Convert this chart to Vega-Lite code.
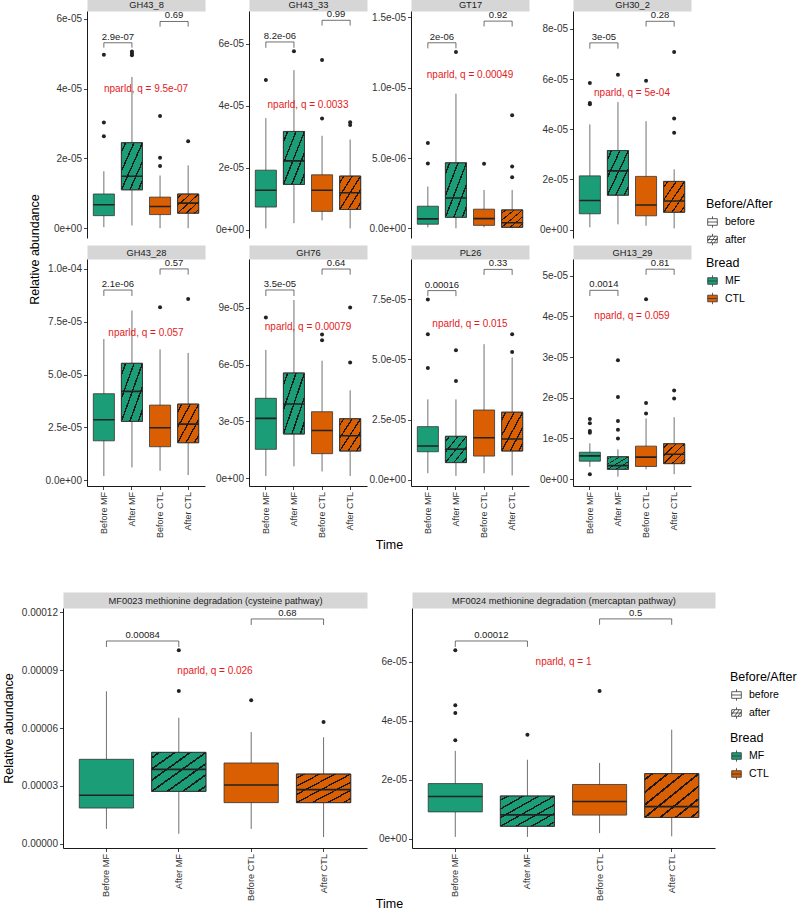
{
"$schema":"https://vega.github.io/schema/vega-lite/v6.json",
"background":"white",
"padding":{"left":2,"top":0,"right":0,"bottom":0},
"config":{"font":"Liberation Sans","view":{"stroke":null},
"axis":{"grid":false,"domainColor":"#000","domainWidth":0.9,"tickColor":"#333","tickSize":3.5,"tickWidth":0.9,"labelColor":"#333","labelFontSize":10,"labelPadding":2,"titleFontWeight":"normal","titleFontSize":12.5,"titleColor":"#000"},
"legend":{"titleFontWeight":"normal","titleFontSize":12.5,"titleColor":"#000","labelFontSize":10.5,"labelColor":"#000","padding":0}},
"datasets":{"d":[
{"k":"box","p":"GH43_8","t":"Before MF","b":"MF","ba":"before","lo":0.03e-5,"q1":0.36e-5,"md":0.67e-5,"q3":0.98e-5,"hi":1.63e-5},
{"k":"box","p":"GH43_8","t":"After MF","b":"MF","ba":"after","lo":0.08e-5,"q1":1.10e-5,"md":1.49e-5,"q3":2.45e-5,"hi":4.33e-5},
{"k":"box","p":"GH43_8","t":"Before CTL","b":"CTL","ba":"before","lo":0,"q1":0.39e-5,"md":0.62e-5,"q3":0.89e-5,"hi":1.51e-5},
{"k":"box","p":"GH43_8","t":"After CTL","b":"CTL","ba":"after","lo":0,"q1":0.43e-5,"md":0.72e-5,"q3":0.98e-5,"hi":1.80e-5},
{"k":"box","p":"GH43_33","t":"Before MF","b":"MF","ba":"before","lo":0.04e-5,"q1":0.73e-5,"md":1.27e-5,"q3":1.92e-5,"hi":3.60e-5},
{"k":"box","p":"GH43_33","t":"After MF","b":"MF","ba":"after","lo":0.21e-5,"q1":1.46e-5,"md":2.22e-5,"q3":3.17e-5,"hi":5.15e-5},
{"k":"box","p":"GH43_33","t":"Before CTL","b":"CTL","ba":"before","lo":0.30e-5,"q1":0.59e-5,"md":1.27e-5,"q3":1.77e-5,"hi":3.03e-5},
{"k":"box","p":"GH43_33","t":"After CTL","b":"CTL","ba":"after","lo":0.04e-5,"q1":0.65e-5,"md":1.19e-5,"q3":1.73e-5,"hi":2.91e-5},
{"k":"box","p":"GT17","t":"Before MF","b":"MF","ba":"before","lo":0.07e-6,"q1":0.29e-6,"md":0.67e-6,"q3":1.57e-6,"hi":2.97e-6},
{"k":"box","p":"GT17","t":"After MF","b":"MF","ba":"after","lo":0,"q1":0.78e-6,"md":2.16e-6,"q3":4.66e-6,"hi":9.58e-6},
{"k":"box","p":"GT17","t":"Before CTL","b":"CTL","ba":"before","lo":0.07e-6,"q1":0.21e-6,"md":0.69e-6,"q3":1.36e-6,"hi":2.73e-6},
{"k":"box","p":"GT17","t":"After CTL","b":"CTL","ba":"after","lo":0,"q1":0.07e-6,"md":0.40e-6,"q3":1.31e-6,"hi":2.73e-6},
{"k":"box","p":"GH30_2","t":"Before MF","b":"MF","ba":"before","lo":0.09e-5,"q1":0.63e-5,"md":1.16e-5,"q3":2.14e-5,"hi":4.19e-5},
{"k":"box","p":"GH30_2","t":"After MF","b":"MF","ba":"after","lo":0.21e-5,"q1":1.37e-5,"md":2.34e-5,"q3":3.15e-5,"hi":5.08e-5},
{"k":"box","p":"GH30_2","t":"Before CTL","b":"CTL","ba":"before","lo":0.15e-5,"q1":0.55e-5,"md":0.98e-5,"q3":2.12e-5,"hi":4.32e-5},
{"k":"box","p":"GH30_2","t":"After CTL","b":"CTL","ba":"after","lo":0.05e-5,"q1":0.69e-5,"md":1.14e-5,"q3":1.92e-5,"hi":2.40e-5},
{"k":"box","p":"GH43_28","t":"Before MF","b":"MF","ba":"before","lo":0.19e-5,"q1":1.86e-5,"md":2.86e-5,"q3":4.09e-5,"hi":6.68e-5},
{"k":"box","p":"GH43_28","t":"After MF","b":"MF","ba":"after","lo":0.60e-5,"q1":2.78e-5,"md":4.20e-5,"q3":5.53e-5,"hi":8.03e-5},
{"k":"box","p":"GH43_28","t":"Before CTL","b":"CTL","ba":"before","lo":0.44e-5,"q1":1.58e-5,"md":2.48e-5,"q3":3.55e-5,"hi":6.19e-5},
{"k":"box","p":"GH43_28","t":"After CTL","b":"CTL","ba":"after","lo":0.24e-5,"q1":1.77e-5,"md":2.65e-5,"q3":3.60e-5,"hi":6.02e-5},
{"k":"box","p":"GH76","t":"Before MF","b":"MF","ba":"before","lo":0.11e-5,"q1":1.52e-5,"md":3.16e-5,"q3":4.22e-5,"hi":6.78e-5},
{"k":"box","p":"GH76","t":"After MF","b":"MF","ba":"after","lo":0.62e-5,"q1":2.33e-5,"md":3.92e-5,"q3":5.56e-5,"hi":9.42e-5},
{"k":"box","p":"GH76","t":"Before CTL","b":"CTL","ba":"before","lo":0.35e-5,"q1":1.29e-5,"md":2.52e-5,"q3":3.51e-5,"hi":6.21e-5},
{"k":"box","p":"GH76","t":"After CTL","b":"CTL","ba":"after","lo":0.11e-5,"q1":1.43e-5,"md":2.24e-5,"q3":3.14e-5,"hi":4.64e-5},
{"k":"box","p":"PL26","t":"Before MF","b":"MF","ba":"before","lo":0.28e-5,"q1":1.17e-5,"md":1.41e-5,"q3":2.21e-5,"hi":3.34e-5},
{"k":"box","p":"PL26","t":"After MF","b":"MF","ba":"after","lo":0.17e-5,"q1":0.72e-5,"md":1.28e-5,"q3":1.81e-5,"hi":3.34e-5},
{"k":"box","p":"PL26","t":"Before CTL","b":"CTL","ba":"before","lo":0.28e-5,"q1":0.99e-5,"md":1.75e-5,"q3":2.90e-5,"hi":5.63e-5},
{"k":"box","p":"PL26","t":"After CTL","b":"CTL","ba":"after","lo":0.19e-5,"q1":1.20e-5,"md":1.70e-5,"q3":2.81e-5,"hi":5.08e-5},
{"k":"box","p":"GH13_29","t":"Before MF","b":"MF","ba":"before","lo":0.30e-5,"q1":0.44e-5,"md":0.57e-5,"q3":0.66e-5,"hi":0.88e-5},
{"k":"box","p":"GH13_29","t":"After MF","b":"MF","ba":"after","lo":0.06e-5,"q1":0.24e-5,"md":0.33e-5,"q3":0.55e-5,"hi":0.73e-5},
{"k":"box","p":"GH13_29","t":"Before CTL","b":"CTL","ba":"before","lo":0.24e-5,"q1":0.31e-5,"md":0.54e-5,"q3":0.81e-5,"hi":1.49e-5},
{"k":"box","p":"GH13_29","t":"After CTL","b":"CTL","ba":"after","lo":0.12e-5,"q1":0.38e-5,"md":0.61e-5,"q3":0.87e-5,"hi":1.52e-5},
{"k":"box","p":"MF0023","t":"Before MF","b":"MF","ba":"before","lo":0.78e-5,"q1":1.86e-5,"md":2.52e-5,"q3":4.38e-5,"hi":7.90e-5},
{"k":"box","p":"MF0023","t":"After MF","b":"MF","ba":"after","lo":0.53e-5,"q1":2.72e-5,"md":3.86e-5,"q3":4.74e-5,"hi":6.53e-5},
{"k":"box","p":"MF0023","t":"Before CTL","b":"CTL","ba":"before","lo":0.78e-5,"q1":2.14e-5,"md":3.05e-5,"q3":4.19e-5,"hi":5.79e-5},
{"k":"box","p":"MF0023","t":"After CTL","b":"CTL","ba":"after","lo":0.36e-5,"q1":2.14e-5,"md":2.81e-5,"q3":3.62e-5,"hi":5.52e-5},
{"k":"box","p":"MF0024","t":"Before MF","b":"MF","ba":"before","lo":0.06e-5,"q1":0.91e-5,"md":1.43e-5,"q3":1.87e-5,"hi":2.98e-5},
{"k":"box","p":"MF0024","t":"After MF","b":"MF","ba":"after","lo":0.06e-5,"q1":0.42e-5,"md":0.81e-5,"q3":1.45e-5,"hi":2.68e-5},
{"k":"box","p":"MF0024","t":"Before CTL","b":"CTL","ba":"before","lo":0.19e-5,"q1":0.80e-5,"md":1.26e-5,"q3":1.84e-5,"hi":2.57e-5},
{"k":"box","p":"MF0024","t":"After CTL","b":"CTL","ba":"after","lo":0.08e-5,"q1":0.72e-5,"md":1.09e-5,"q3":2.21e-5,"hi":3.70e-5},
{"k":"out","p":"GH43_8","t":"Before MF","v":4.97e-5},{"k":"out","p":"GH43_8","t":"Before MF","v":3.03e-5},{"k":"out","p":"GH43_8","t":"Before MF","v":2.63e-5},
{"k":"out","p":"GH43_8","t":"After MF","v":5.06e-5},{"k":"out","p":"GH43_8","t":"After MF","v":5.00e-5},{"k":"out","p":"GH43_8","t":"After MF","v":4.95e-5},
{"k":"out","p":"GH43_8","t":"Before CTL","v":3.21e-5},{"k":"out","p":"GH43_8","t":"Before CTL","v":2.02e-5},{"k":"out","p":"GH43_8","t":"Before CTL","v":1.78e-5},
{"k":"out","p":"GH43_8","t":"After CTL","v":2.49e-5},
{"k":"out","p":"GH43_33","t":"Before MF","v":4.83e-5},{"k":"out","p":"GH43_33","t":"After MF","v":5.76e-5},
{"k":"out","p":"GH43_33","t":"Before CTL","v":5.48e-5},{"k":"out","p":"GH43_33","t":"Before CTL","v":3.59e-5},
{"k":"out","p":"GH43_33","t":"After CTL","v":3.47e-5},{"k":"out","p":"GH43_33","t":"After CTL","v":3.38e-5},
{"k":"out","p":"GT17","t":"Before MF","v":6.06e-6},{"k":"out","p":"GT17","t":"Before MF","v":4.61e-6},{"k":"out","p":"GT17","t":"After MF","v":12.55e-6},
{"k":"out","p":"GT17","t":"Before CTL","v":4.59e-6},{"k":"out","p":"GT17","t":"After CTL","v":8.04e-6},{"k":"out","p":"GT17","t":"After CTL","v":4.40e-6},{"k":"out","p":"GT17","t":"After CTL","v":3.64e-6},
{"k":"out","p":"GH30_2","t":"Before MF","v":5.84e-5},{"k":"out","p":"GH30_2","t":"Before MF","v":5.04e-5},{"k":"out","p":"GH30_2","t":"Before MF","v":4.99e-5},
{"k":"out","p":"GH30_2","t":"After MF","v":6.17e-5},{"k":"out","p":"GH30_2","t":"Before CTL","v":5.93e-5},
{"k":"out","p":"GH30_2","t":"After CTL","v":7.08e-5},{"k":"out","p":"GH30_2","t":"After CTL","v":4.43e-5},{"k":"out","p":"GH30_2","t":"After CTL","v":3.86e-5},
{"k":"out","p":"GH43_28","t":"Before CTL","v":8.18e-5},{"k":"out","p":"GH43_28","t":"After CTL","v":8.58e-5},
{"k":"out","p":"GH76","t":"Before MF","v":8.49e-5},{"k":"out","p":"GH76","t":"Before CTL","v":7.59e-5},{"k":"out","p":"GH76","t":"Before CTL","v":7.29e-5},
{"k":"out","p":"GH76","t":"After CTL","v":9.03e-5},{"k":"out","p":"GH76","t":"After CTL","v":6.11e-5},
{"k":"out","p":"PL26","t":"Before MF","v":7.48e-5},{"k":"out","p":"PL26","t":"Before MF","v":6.04e-5},{"k":"out","p":"PL26","t":"Before MF","v":4.64e-5},
{"k":"out","p":"PL26","t":"After MF","v":5.38e-5},{"k":"out","p":"PL26","t":"After MF","v":4.10e-5},
{"k":"out","p":"PL26","t":"After CTL","v":6.04e-5},{"k":"out","p":"PL26","t":"After CTL","v":5.30e-5},
{"k":"out","p":"GH13_29","t":"Before MF","v":0.12e-5},{"k":"out","p":"GH13_29","t":"Before MF","v":1.48e-5},{"k":"out","p":"GH13_29","t":"Before MF","v":1.37e-5},{"k":"out","p":"GH13_29","t":"Before MF","v":1.18e-5},{"k":"out","p":"GH13_29","t":"Before MF","v":1.14e-5},
{"k":"out","p":"GH13_29","t":"After MF","v":2.92e-5},{"k":"out","p":"GH13_29","t":"After MF","v":2.02e-5},{"k":"out","p":"GH13_29","t":"After MF","v":1.43e-5},{"k":"out","p":"GH13_29","t":"After MF","v":1.21e-5},{"k":"out","p":"GH13_29","t":"After MF","v":1.00e-5},
{"k":"out","p":"GH13_29","t":"Before CTL","v":4.42e-5},{"k":"out","p":"GH13_29","t":"Before CTL","v":1.87e-5},{"k":"out","p":"GH13_29","t":"Before CTL","v":1.61e-5},
{"k":"out","p":"GH13_29","t":"After CTL","v":2.18e-5},{"k":"out","p":"GH13_29","t":"After CTL","v":1.98e-5},
{"k":"out","p":"MF0023","t":"After MF","v":10.02e-5},{"k":"out","p":"MF0023","t":"After MF","v":7.91e-5},{"k":"out","p":"MF0023","t":"Before CTL","v":7.43e-5},{"k":"out","p":"MF0023","t":"After CTL","v":6.31e-5},
{"k":"out","p":"MF0024","t":"Before MF","v":6.40e-5},{"k":"out","p":"MF0024","t":"Before MF","v":4.53e-5},{"k":"out","p":"MF0024","t":"Before MF","v":4.27e-5},{"k":"out","p":"MF0024","t":"Before MF","v":3.34e-5},
{"k":"out","p":"MF0024","t":"After MF","v":3.53e-5},{"k":"out","p":"MF0024","t":"Before CTL","v":5.01e-5},
{"k":"br","p":"GH43_8","from":"Before MF","to":"After MF","y":5.31e-5,"yt":5.17e-5,"lab":"2.9e-07"},{"k":"br","p":"GH43_8","from":"Before CTL","to":"After CTL","y":5.92e-5,"yt":5.77e-5,"lab":"0.69"},
{"k":"br","p":"GH43_33","from":"Before MF","to":"After MF","y":6.06e-5,"yt":5.87e-5,"lab":"8.2e-06"},{"k":"br","p":"GH43_33","from":"Before CTL","to":"After CTL","y":6.76e-5,"yt":6.59e-5,"lab":"0.99"},
{"k":"br","p":"GT17","from":"Before MF","to":"After MF","y":13.2e-6,"yt":12.8e-6,"lab":"2e-06"},{"k":"br","p":"GT17","from":"Before CTL","to":"After CTL","y":14.74e-6,"yt":14.36e-6,"lab":"0.92"},
{"k":"br","p":"GH30_2","from":"Before MF","to":"After MF","y":7.44e-5,"yt":7.21e-5,"lab":"3e-05"},{"k":"br","p":"GH30_2","from":"Before CTL","to":"After CTL","y":8.30e-5,"yt":8.09e-5,"lab":"0.28"},
{"k":"br","p":"GH43_28","from":"Before MF","to":"After MF","y":9.0e-5,"yt":8.72e-5,"lab":"2.1e-06"},{"k":"br","p":"GH43_28","from":"Before CTL","to":"After CTL","y":10.0e-5,"yt":9.73e-5,"lab":"0.57"},
{"k":"br","p":"GH76","from":"Before MF","to":"After MF","y":9.95e-5,"yt":9.63e-5,"lab":"3.5e-05"},{"k":"br","p":"GH76","from":"Before CTL","to":"After CTL","y":11.06e-5,"yt":10.76e-5,"lab":"0.64"},
{"k":"br","p":"PL26","from":"Before MF","to":"After MF","y":7.85e-5,"yt":7.62e-5,"lab":"0.00016"},{"k":"br","p":"PL26","from":"Before CTL","to":"After CTL","y":8.73e-5,"yt":8.50e-5,"lab":"0.33"},
{"k":"br","p":"GH13_29","from":"Before MF","to":"After MF","y":4.64e-5,"yt":4.50e-5,"lab":"0.0014"},{"k":"br","p":"GH13_29","from":"Before CTL","to":"After CTL","y":5.16e-5,"yt":5.02e-5,"lab":"0.81"},
{"k":"br","p":"MF0023","from":"Before MF","to":"After MF","y":10.5e-5,"yt":10.19e-5,"lab":"0.00084"},{"k":"br","p":"MF0023","from":"Before CTL","to":"After CTL","y":11.64e-5,"yt":11.33e-5,"lab":"0.68"},
{"k":"br","p":"MF0024","from":"Before MF","to":"After MF","y":6.71e-5,"yt":6.51e-5,"lab":"0.00012"},{"k":"br","p":"MF0024","from":"Before CTL","to":"After CTL","y":7.46e-5,"yt":7.26e-5,"lab":"0.5"},
{"k":"np","p":"GH43_8","y":4.0e-5,"lab":"nparld, q = 9.5e-07"},
{"k":"np","p":"GH43_33","y":4.01e-5,"lab":"nparld, q = 0.0033"},
{"k":"np","p":"GT17","y":10.94e-6,"lab":"nparld, q = 0.00049"},
{"k":"np","p":"GH30_2","y":5.46e-5,"lab":"nparld, q = 5e-04"},
{"k":"np","p":"GH43_28","y":6.97e-5,"lab":"nparld, q = 0.057"},
{"k":"np","p":"GH76","y":7.99e-5,"lab":"nparld, q = 0.00079"},
{"k":"np","p":"PL26","y":6.46e-5,"lab":"nparld, q = 0.015"},
{"k":"np","p":"GH13_29","y":4.0e-5,"lab":"nparld, q = 0.059"},
{"k":"np","p":"MF0023","y":8.97e-5,"lab":"nparld, q = 0.026"},
{"k":"np","p":"MF0024","y":6.0e-5,"lab":"nparld, q = 1"}
]},
"center":true,"spacing":45,
"resolve":{"legend":{"fill":"independent","shape":"independent"}},
"vconcat":[
{"columns":4,"bounds":"flush","spacing":{"row":21,"column":44},"concat":[
{"width":118,"height":227,"data":{"name":"d"},"transform":[{"filter":"datum.p=='GH43_8'"}],"layer":[
{"transform":[{"filter":"datum.k=='box'"}],"mark":{"type":"rule","color":"#333","strokeWidth":0.7},"encoding":{"x":{"field":"t","type":"nominal","scale":{"domain":["Before MF","After MF","Before CTL","After CTL"],"paddingInner":0.25,"paddingOuter":0.225},"axis":{"orient":"bottom","domain":false,"ticks":false,"labels":false,"title":null}},"y":{"field":"lo","type":"quantitative","scale":{"domain":[-2.8e-6,6.22e-5],"nice":false,"zero":false},"axis":{"title":null,"values":[0,2e-5,4e-5,6e-5],"labelExpr":"datum.value == 0 ? '0e+00' : replace(format(datum.value, '.0e'), 'e-', 'e-0')"}},"y2":{"field":"hi"}}},
{"transform":[{"filter":"datum.k=='box'"}],"mark":{"type":"bar","stroke":"#333","strokeWidth":0.8},"encoding":{"x":{"field":"t","type":"nominal","axis":null},"y":{"field":"q1","type":"quantitative"},"y2":{"field":"q3"},"fill":{"field":"b","type":"nominal","scale":{"domain":["MF","CTL"],"range":["#1B9E77","#D95F02"]},"legend":{"title":"Bread","orient":"none","legendX":619,"legendY":246,"symbolType":"M-0.8,-0.55H0.8V0.55H-0.8Z M-0.8,0H0.8 M0,-0.55V-0.95 M0,0.55V0.95","symbolSize":144,"symbolStrokeColor":"#333","symbolStrokeWidth":0.8,"rowPadding":2.5,"titlePadding":5,"labelOffset":6}}}},
{"transform":[{"filter":"datum.k=='box' && datum.ba=='after'"}],"mark":{"type":"bar","stroke":"#333","strokeWidth":0.8,"fill":{"gradient":"linear","x1":0,"y1":0,"x2":1,"y2":1,"stops":[{"offset":0,"color":"rgba(0,0,0,0)"},{"offset":0.082,"color":"rgba(0,0,0,0)"},{"offset":0.082,"color":"#1a1a1a"},{"offset":0.118,"color":"#1a1a1a"},{"offset":0.118,"color":"rgba(0,0,0,0)"},{"offset":0.282,"color":"rgba(0,0,0,0)"},{"offset":0.282,"color":"#1a1a1a"},{"offset":0.318,"color":"#1a1a1a"},{"offset":0.318,"color":"rgba(0,0,0,0)"},{"offset":0.482,"color":"rgba(0,0,0,0)"},{"offset":0.482,"color":"#1a1a1a"},{"offset":0.518,"color":"#1a1a1a"},{"offset":0.518,"color":"rgba(0,0,0,0)"},{"offset":0.682,"color":"rgba(0,0,0,0)"},{"offset":0.682,"color":"#1a1a1a"},{"offset":0.718,"color":"#1a1a1a"},{"offset":0.718,"color":"rgba(0,0,0,0)"},{"offset":0.882,"color":"rgba(0,0,0,0)"},{"offset":0.882,"color":"#1a1a1a"},{"offset":0.918,"color":"#1a1a1a"},{"offset":0.918,"color":"rgba(0,0,0,0)"},{"offset":1,"color":"rgba(0,0,0,0)"}]}},"encoding":{"x":{"field":"t","type":"nominal","axis":null},"y":{"field":"q1","type":"quantitative"},"y2":{"field":"q3"}}},
{"transform":[{"filter":"datum.k=='box'"}],"mark":{"type":"bar","fill":"transparent","stroke":"#222","strokeWidth":1.6},"encoding":{"x":{"field":"t","type":"nominal","axis":{"orient":"top","offset":7,"domain":true,"domainColor":"#d6d6d6","domainWidth":14,"ticks":false,"labels":false,"title":"GH43_8","titleFontSize":9.3,"titleColor":"#1a1a1a","titleY":0,"titleBaseline":"middle"}},"y":{"field":"md","type":"quantitative"},"y2":{"field":"md"}}},
{"transform":[{"filter":"datum.k=='out'"}],"mark":{"type":"circle","size":16,"color":"#222","opacity":1},"encoding":{"x":{"field":"t","type":"nominal","axis":null},"y":{"field":"v","type":"quantitative"}}},
{"transform":[{"filter":"datum.k=='br'"}],"mark":{"type":"rule","color":"#333","strokeWidth":0.7},"encoding":{"x":{"field":"from","type":"nominal","axis":null},"x2":{"field":"to"},"y":{"field":"y","type":"quantitative"}}},
{"transform":[{"filter":"datum.k=='br'"}],"mark":{"type":"rule","color":"#333","strokeWidth":0.7},"encoding":{"x":{"field":"from","type":"nominal","axis":null},"y":{"field":"y","type":"quantitative"},"y2":{"field":"yt"}}},
{"transform":[{"filter":"datum.k=='br'"}],"mark":{"type":"rule","color":"#333","strokeWidth":0.7},"encoding":{"x":{"field":"to","type":"nominal","axis":null},"y":{"field":"y","type":"quantitative"},"y2":{"field":"yt"}}},
{"transform":[{"filter":"datum.k=='br'"}],"mark":{"type":"text","fontSize":9.5,"baseline":"bottom","dy":-1,"color":"#1a1a1a"},"encoding":{"x":{"field":"from","type":"nominal","bandPosition":1.1667,"axis":null},"y":{"field":"y","type":"quantitative"},"text":{"field":"lab"}}},
{"transform":[{"filter":"datum.k=='np'"}],"mark":{"type":"text","fontSize":10,"color":"#E41A1C"},"encoding":{"x":{"datum":"After MF","type":"nominal","bandPosition":1.1667,"axis":null},"y":{"field":"y","type":"quantitative"},"text":{"field":"lab"}}},
{"transform":[{"filter":"false"}],"mark":{"type":"point","filled":false,"color":"#333","strokeWidth":0.8,"opacity":1},"encoding":{"x":{"field":"t","type":"nominal","axis":null},"y":{"field":"md","type":"quantitative"},"shape":{"field":"ba","type":"nominal","scale":{"domain":["before","after"],"range":["M-0.8,-0.55H0.8V0.55H-0.8Z M-0.8,0H0.8 M0,-0.55V-0.95 M0,0.55V0.95","M-0.8,-0.55H0.8V0.55H-0.8Z M-0.8,0H0.8 M0,-0.55V-0.95 M0,0.55V0.95 M-0.8,0.25L-0.25,-0.55 M-0.3,0.55L0.45,-0.55 M0.25,0.55L0.8,-0.25"]},"legend":{"title":"Before/After","orient":"none","legendX":619,"legendY":187,"symbolSize":144,"symbolStrokeColor":"#333","symbolStrokeWidth":0.8,"rowPadding":2.5,"titlePadding":5,"labelOffset":6}}}}
]},
{"width":118,"height":227,"data":{"name":"d"},"transform":[{"filter":"datum.p=='GH43_33'"}],"layer":[
{"transform":[{"filter":"datum.k=='box'"}],"mark":{"type":"rule","color":"#333","strokeWidth":0.7},"encoding":{"x":{"field":"t","type":"nominal","scale":{"domain":["Before MF","After MF","Before CTL","After CTL"],"paddingInner":0.25,"paddingOuter":0.225},"axis":{"orient":"bottom","domain":false,"ticks":false,"labels":false,"title":null}},"y":{"field":"lo","type":"quantitative","scale":{"domain":[-2.7e-6,7.06e-5],"nice":false,"zero":false},"axis":{"title":null,"values":[0,2e-5,4e-5,6e-5],"labelExpr":"datum.value == 0 ? '0e+00' : replace(format(datum.value, '.0e'), 'e-', 'e-0')"}},"y2":{"field":"hi"}}},
{"transform":[{"filter":"datum.k=='box'"}],"mark":{"type":"bar","stroke":"#333","strokeWidth":0.8},"encoding":{"x":{"field":"t","type":"nominal","axis":null},"y":{"field":"q1","type":"quantitative"},"y2":{"field":"q3"},"fill":{"field":"b","type":"nominal","scale":{"domain":["MF","CTL"],"range":["#1B9E77","#D95F02"]},"legend":null}}},
{"transform":[{"filter":"datum.k=='box' && datum.ba=='after'"}],"mark":{"type":"bar","stroke":"#333","strokeWidth":0.8,"fill":{"gradient":"linear","x1":0,"y1":0,"x2":1,"y2":1,"stops":[{"offset":0,"color":"rgba(0,0,0,0)"},{"offset":0.082,"color":"rgba(0,0,0,0)"},{"offset":0.082,"color":"#1a1a1a"},{"offset":0.118,"color":"#1a1a1a"},{"offset":0.118,"color":"rgba(0,0,0,0)"},{"offset":0.282,"color":"rgba(0,0,0,0)"},{"offset":0.282,"color":"#1a1a1a"},{"offset":0.318,"color":"#1a1a1a"},{"offset":0.318,"color":"rgba(0,0,0,0)"},{"offset":0.482,"color":"rgba(0,0,0,0)"},{"offset":0.482,"color":"#1a1a1a"},{"offset":0.518,"color":"#1a1a1a"},{"offset":0.518,"color":"rgba(0,0,0,0)"},{"offset":0.682,"color":"rgba(0,0,0,0)"},{"offset":0.682,"color":"#1a1a1a"},{"offset":0.718,"color":"#1a1a1a"},{"offset":0.718,"color":"rgba(0,0,0,0)"},{"offset":0.882,"color":"rgba(0,0,0,0)"},{"offset":0.882,"color":"#1a1a1a"},{"offset":0.918,"color":"#1a1a1a"},{"offset":0.918,"color":"rgba(0,0,0,0)"},{"offset":1,"color":"rgba(0,0,0,0)"}]}},"encoding":{"x":{"field":"t","type":"nominal","axis":null},"y":{"field":"q1","type":"quantitative"},"y2":{"field":"q3"}}},
{"transform":[{"filter":"datum.k=='box'"}],"mark":{"type":"bar","fill":"transparent","stroke":"#222","strokeWidth":1.6},"encoding":{"x":{"field":"t","type":"nominal","axis":{"orient":"top","offset":7,"domain":true,"domainColor":"#d6d6d6","domainWidth":14,"ticks":false,"labels":false,"title":"GH43_33","titleFontSize":9.3,"titleColor":"#1a1a1a","titleY":0,"titleBaseline":"middle"}},"y":{"field":"md","type":"quantitative"},"y2":{"field":"md"}}},
{"transform":[{"filter":"datum.k=='out'"}],"mark":{"type":"circle","size":16,"color":"#222","opacity":1},"encoding":{"x":{"field":"t","type":"nominal","axis":null},"y":{"field":"v","type":"quantitative"}}},
{"transform":[{"filter":"datum.k=='br'"}],"mark":{"type":"rule","color":"#333","strokeWidth":0.7},"encoding":{"x":{"field":"from","type":"nominal","axis":null},"x2":{"field":"to"},"y":{"field":"y","type":"quantitative"}}},
{"transform":[{"filter":"datum.k=='br'"}],"mark":{"type":"rule","color":"#333","strokeWidth":0.7},"encoding":{"x":{"field":"from","type":"nominal","axis":null},"y":{"field":"y","type":"quantitative"},"y2":{"field":"yt"}}},
{"transform":[{"filter":"datum.k=='br'"}],"mark":{"type":"rule","color":"#333","strokeWidth":0.7},"encoding":{"x":{"field":"to","type":"nominal","axis":null},"y":{"field":"y","type":"quantitative"},"y2":{"field":"yt"}}},
{"transform":[{"filter":"datum.k=='br'"}],"mark":{"type":"text","fontSize":9.5,"baseline":"bottom","dy":-1,"color":"#1a1a1a"},"encoding":{"x":{"field":"from","type":"nominal","bandPosition":1.1667,"axis":null},"y":{"field":"y","type":"quantitative"},"text":{"field":"lab"}}},
{"transform":[{"filter":"datum.k=='np'"}],"mark":{"type":"text","fontSize":10,"color":"#E41A1C"},"encoding":{"x":{"datum":"After MF","type":"nominal","bandPosition":1.1667,"axis":null},"y":{"field":"y","type":"quantitative"},"text":{"field":"lab"}}}
]},
{"width":118,"height":227,"data":{"name":"d"},"transform":[{"filter":"datum.p=='GT17'"}],"layer":[
{"transform":[{"filter":"datum.k=='box'"}],"mark":{"type":"rule","color":"#333","strokeWidth":0.7},"encoding":{"x":{"field":"t","type":"nominal","scale":{"domain":["Before MF","After MF","Before CTL","After CTL"],"paddingInner":0.25,"paddingOuter":0.225},"axis":{"orient":"bottom","domain":false,"ticks":false,"labels":false,"title":null}},"y":{"field":"lo","type":"quantitative","scale":{"domain":[-6.9e-7,1.546e-5],"nice":false,"zero":false},"axis":{"title":null,"values":[0,5e-6,1e-5,1.5e-5],"labelExpr":"datum.value == 0 ? '0.0e+00' : replace(format(datum.value, '.1e'), 'e-', 'e-0')"}},"y2":{"field":"hi"}}},
{"transform":[{"filter":"datum.k=='box'"}],"mark":{"type":"bar","stroke":"#333","strokeWidth":0.8},"encoding":{"x":{"field":"t","type":"nominal","axis":null},"y":{"field":"q1","type":"quantitative"},"y2":{"field":"q3"},"fill":{"field":"b","type":"nominal","scale":{"domain":["MF","CTL"],"range":["#1B9E77","#D95F02"]},"legend":null}}},
{"transform":[{"filter":"datum.k=='box' && datum.ba=='after'"}],"mark":{"type":"bar","stroke":"#333","strokeWidth":0.8,"fill":{"gradient":"linear","x1":0,"y1":0,"x2":1,"y2":1,"stops":[{"offset":0,"color":"rgba(0,0,0,0)"},{"offset":0.082,"color":"rgba(0,0,0,0)"},{"offset":0.082,"color":"#1a1a1a"},{"offset":0.118,"color":"#1a1a1a"},{"offset":0.118,"color":"rgba(0,0,0,0)"},{"offset":0.282,"color":"rgba(0,0,0,0)"},{"offset":0.282,"color":"#1a1a1a"},{"offset":0.318,"color":"#1a1a1a"},{"offset":0.318,"color":"rgba(0,0,0,0)"},{"offset":0.482,"color":"rgba(0,0,0,0)"},{"offset":0.482,"color":"#1a1a1a"},{"offset":0.518,"color":"#1a1a1a"},{"offset":0.518,"color":"rgba(0,0,0,0)"},{"offset":0.682,"color":"rgba(0,0,0,0)"},{"offset":0.682,"color":"#1a1a1a"},{"offset":0.718,"color":"#1a1a1a"},{"offset":0.718,"color":"rgba(0,0,0,0)"},{"offset":0.882,"color":"rgba(0,0,0,0)"},{"offset":0.882,"color":"#1a1a1a"},{"offset":0.918,"color":"#1a1a1a"},{"offset":0.918,"color":"rgba(0,0,0,0)"},{"offset":1,"color":"rgba(0,0,0,0)"}]}},"encoding":{"x":{"field":"t","type":"nominal","axis":null},"y":{"field":"q1","type":"quantitative"},"y2":{"field":"q3"}}},
{"transform":[{"filter":"datum.k=='box'"}],"mark":{"type":"bar","fill":"transparent","stroke":"#222","strokeWidth":1.6},"encoding":{"x":{"field":"t","type":"nominal","axis":{"orient":"top","offset":7,"domain":true,"domainColor":"#d6d6d6","domainWidth":14,"ticks":false,"labels":false,"title":"GT17","titleFontSize":9.3,"titleColor":"#1a1a1a","titleY":0,"titleBaseline":"middle"}},"y":{"field":"md","type":"quantitative"},"y2":{"field":"md"}}},
{"transform":[{"filter":"datum.k=='out'"}],"mark":{"type":"circle","size":16,"color":"#222","opacity":1},"encoding":{"x":{"field":"t","type":"nominal","axis":null},"y":{"field":"v","type":"quantitative"}}},
{"transform":[{"filter":"datum.k=='br'"}],"mark":{"type":"rule","color":"#333","strokeWidth":0.7},"encoding":{"x":{"field":"from","type":"nominal","axis":null},"x2":{"field":"to"},"y":{"field":"y","type":"quantitative"}}},
{"transform":[{"filter":"datum.k=='br'"}],"mark":{"type":"rule","color":"#333","strokeWidth":0.7},"encoding":{"x":{"field":"from","type":"nominal","axis":null},"y":{"field":"y","type":"quantitative"},"y2":{"field":"yt"}}},
{"transform":[{"filter":"datum.k=='br'"}],"mark":{"type":"rule","color":"#333","strokeWidth":0.7},"encoding":{"x":{"field":"to","type":"nominal","axis":null},"y":{"field":"y","type":"quantitative"},"y2":{"field":"yt"}}},
{"transform":[{"filter":"datum.k=='br'"}],"mark":{"type":"text","fontSize":9.5,"baseline":"bottom","dy":-1,"color":"#1a1a1a"},"encoding":{"x":{"field":"from","type":"nominal","bandPosition":1.1667,"axis":null},"y":{"field":"y","type":"quantitative"},"text":{"field":"lab"}}},
{"transform":[{"filter":"datum.k=='np'"}],"mark":{"type":"text","fontSize":10,"color":"#E41A1C"},"encoding":{"x":{"datum":"After MF","type":"nominal","bandPosition":1.1667,"axis":null},"y":{"field":"y","type":"quantitative"},"text":{"field":"lab"}}}
]},
{"width":118,"height":227,"data":{"name":"d"},"transform":[{"filter":"datum.p=='GH30_2'"}],"layer":[
{"transform":[{"filter":"datum.k=='box'"}],"mark":{"type":"rule","color":"#333","strokeWidth":0.7},"encoding":{"x":{"field":"t","type":"nominal","scale":{"domain":["Before MF","After MF","Before CTL","After CTL"],"paddingInner":0.25,"paddingOuter":0.225},"axis":{"orient":"bottom","domain":false,"ticks":false,"labels":false,"title":null}},"y":{"field":"lo","type":"quantitative","scale":{"domain":[-3.35e-6,8.71e-5],"nice":false,"zero":false},"axis":{"title":null,"values":[0,2e-5,4e-5,6e-5,8e-5],"labelExpr":"datum.value == 0 ? '0e+00' : replace(format(datum.value, '.0e'), 'e-', 'e-0')"}},"y2":{"field":"hi"}}},
{"transform":[{"filter":"datum.k=='box'"}],"mark":{"type":"bar","stroke":"#333","strokeWidth":0.8},"encoding":{"x":{"field":"t","type":"nominal","axis":null},"y":{"field":"q1","type":"quantitative"},"y2":{"field":"q3"},"fill":{"field":"b","type":"nominal","scale":{"domain":["MF","CTL"],"range":["#1B9E77","#D95F02"]},"legend":null}}},
{"transform":[{"filter":"datum.k=='box' && datum.ba=='after'"}],"mark":{"type":"bar","stroke":"#333","strokeWidth":0.8,"fill":{"gradient":"linear","x1":0,"y1":0,"x2":1,"y2":1,"stops":[{"offset":0,"color":"rgba(0,0,0,0)"},{"offset":0.082,"color":"rgba(0,0,0,0)"},{"offset":0.082,"color":"#1a1a1a"},{"offset":0.118,"color":"#1a1a1a"},{"offset":0.118,"color":"rgba(0,0,0,0)"},{"offset":0.282,"color":"rgba(0,0,0,0)"},{"offset":0.282,"color":"#1a1a1a"},{"offset":0.318,"color":"#1a1a1a"},{"offset":0.318,"color":"rgba(0,0,0,0)"},{"offset":0.482,"color":"rgba(0,0,0,0)"},{"offset":0.482,"color":"#1a1a1a"},{"offset":0.518,"color":"#1a1a1a"},{"offset":0.518,"color":"rgba(0,0,0,0)"},{"offset":0.682,"color":"rgba(0,0,0,0)"},{"offset":0.682,"color":"#1a1a1a"},{"offset":0.718,"color":"#1a1a1a"},{"offset":0.718,"color":"rgba(0,0,0,0)"},{"offset":0.882,"color":"rgba(0,0,0,0)"},{"offset":0.882,"color":"#1a1a1a"},{"offset":0.918,"color":"#1a1a1a"},{"offset":0.918,"color":"rgba(0,0,0,0)"},{"offset":1,"color":"rgba(0,0,0,0)"}]}},"encoding":{"x":{"field":"t","type":"nominal","axis":null},"y":{"field":"q1","type":"quantitative"},"y2":{"field":"q3"}}},
{"transform":[{"filter":"datum.k=='box'"}],"mark":{"type":"bar","fill":"transparent","stroke":"#222","strokeWidth":1.6},"encoding":{"x":{"field":"t","type":"nominal","axis":{"orient":"top","offset":7,"domain":true,"domainColor":"#d6d6d6","domainWidth":14,"ticks":false,"labels":false,"title":"GH30_2","titleFontSize":9.3,"titleColor":"#1a1a1a","titleY":0,"titleBaseline":"middle"}},"y":{"field":"md","type":"quantitative"},"y2":{"field":"md"}}},
{"transform":[{"filter":"datum.k=='out'"}],"mark":{"type":"circle","size":16,"color":"#222","opacity":1},"encoding":{"x":{"field":"t","type":"nominal","axis":null},"y":{"field":"v","type":"quantitative"}}},
{"transform":[{"filter":"datum.k=='br'"}],"mark":{"type":"rule","color":"#333","strokeWidth":0.7},"encoding":{"x":{"field":"from","type":"nominal","axis":null},"x2":{"field":"to"},"y":{"field":"y","type":"quantitative"}}},
{"transform":[{"filter":"datum.k=='br'"}],"mark":{"type":"rule","color":"#333","strokeWidth":0.7},"encoding":{"x":{"field":"from","type":"nominal","axis":null},"y":{"field":"y","type":"quantitative"},"y2":{"field":"yt"}}},
{"transform":[{"filter":"datum.k=='br'"}],"mark":{"type":"rule","color":"#333","strokeWidth":0.7},"encoding":{"x":{"field":"to","type":"nominal","axis":null},"y":{"field":"y","type":"quantitative"},"y2":{"field":"yt"}}},
{"transform":[{"filter":"datum.k=='br'"}],"mark":{"type":"text","fontSize":9.5,"baseline":"bottom","dy":-1,"color":"#1a1a1a"},"encoding":{"x":{"field":"from","type":"nominal","bandPosition":1.1667,"axis":null},"y":{"field":"y","type":"quantitative"},"text":{"field":"lab"}}},
{"transform":[{"filter":"datum.k=='np'"}],"mark":{"type":"text","fontSize":10,"color":"#E41A1C"},"encoding":{"x":{"datum":"After MF","type":"nominal","bandPosition":1.1667,"axis":null},"y":{"field":"y","type":"quantitative"},"text":{"field":"lab"}}}
]},
{"width":118,"height":227,"data":{"name":"d"},"transform":[{"filter":"datum.p=='GH43_28'"}],"layer":[
{"transform":[{"filter":"datum.k=='box'"}],"mark":{"type":"rule","color":"#333","strokeWidth":0.7},"encoding":{"x":{"field":"t","type":"nominal","scale":{"domain":["Before MF","After MF","Before CTL","After CTL"],"paddingInner":0.25,"paddingOuter":0.225},"axis":{"orient":"bottom","title":null,"labelAngle":-90,"labelFontSize":9}},"y":{"field":"lo","type":"quantitative","scale":{"domain":[-2.8e-6,1.047e-4],"nice":false,"zero":false},"axis":{"title":"Relative abundance","titleX":-49,"titleY":-10,"titleBaseline":"alphabetic","values":[0,2.5e-5,5e-5,7.5e-5,1e-4],"labelExpr":"datum.value == 0 ? '0.0e+00' : replace(format(datum.value, '.1e'), 'e-', 'e-0')"}},"y2":{"field":"hi"}}},
{"transform":[{"filter":"datum.k=='box'"}],"mark":{"type":"bar","stroke":"#333","strokeWidth":0.8},"encoding":{"x":{"field":"t","type":"nominal","axis":null},"y":{"field":"q1","type":"quantitative"},"y2":{"field":"q3"},"fill":{"field":"b","type":"nominal","scale":{"domain":["MF","CTL"],"range":["#1B9E77","#D95F02"]},"legend":null}}},
{"transform":[{"filter":"datum.k=='box' && datum.ba=='after'"}],"mark":{"type":"bar","stroke":"#333","strokeWidth":0.8,"fill":{"gradient":"linear","x1":0,"y1":0,"x2":1,"y2":1,"stops":[{"offset":0,"color":"rgba(0,0,0,0)"},{"offset":0.082,"color":"rgba(0,0,0,0)"},{"offset":0.082,"color":"#1a1a1a"},{"offset":0.118,"color":"#1a1a1a"},{"offset":0.118,"color":"rgba(0,0,0,0)"},{"offset":0.282,"color":"rgba(0,0,0,0)"},{"offset":0.282,"color":"#1a1a1a"},{"offset":0.318,"color":"#1a1a1a"},{"offset":0.318,"color":"rgba(0,0,0,0)"},{"offset":0.482,"color":"rgba(0,0,0,0)"},{"offset":0.482,"color":"#1a1a1a"},{"offset":0.518,"color":"#1a1a1a"},{"offset":0.518,"color":"rgba(0,0,0,0)"},{"offset":0.682,"color":"rgba(0,0,0,0)"},{"offset":0.682,"color":"#1a1a1a"},{"offset":0.718,"color":"#1a1a1a"},{"offset":0.718,"color":"rgba(0,0,0,0)"},{"offset":0.882,"color":"rgba(0,0,0,0)"},{"offset":0.882,"color":"#1a1a1a"},{"offset":0.918,"color":"#1a1a1a"},{"offset":0.918,"color":"rgba(0,0,0,0)"},{"offset":1,"color":"rgba(0,0,0,0)"}]}},"encoding":{"x":{"field":"t","type":"nominal","axis":null},"y":{"field":"q1","type":"quantitative"},"y2":{"field":"q3"}}},
{"transform":[{"filter":"datum.k=='box'"}],"mark":{"type":"bar","fill":"transparent","stroke":"#222","strokeWidth":1.6},"encoding":{"x":{"field":"t","type":"nominal","axis":{"orient":"top","offset":7,"domain":true,"domainColor":"#d6d6d6","domainWidth":14,"ticks":false,"labels":false,"title":"GH43_28","titleFontSize":9.3,"titleColor":"#1a1a1a","titleY":0,"titleBaseline":"middle"}},"y":{"field":"md","type":"quantitative"},"y2":{"field":"md"}}},
{"transform":[{"filter":"datum.k=='out'"}],"mark":{"type":"circle","size":16,"color":"#222","opacity":1},"encoding":{"x":{"field":"t","type":"nominal","axis":null},"y":{"field":"v","type":"quantitative"}}},
{"transform":[{"filter":"datum.k=='br'"}],"mark":{"type":"rule","color":"#333","strokeWidth":0.7},"encoding":{"x":{"field":"from","type":"nominal","axis":null},"x2":{"field":"to"},"y":{"field":"y","type":"quantitative"}}},
{"transform":[{"filter":"datum.k=='br'"}],"mark":{"type":"rule","color":"#333","strokeWidth":0.7},"encoding":{"x":{"field":"from","type":"nominal","axis":null},"y":{"field":"y","type":"quantitative"},"y2":{"field":"yt"}}},
{"transform":[{"filter":"datum.k=='br'"}],"mark":{"type":"rule","color":"#333","strokeWidth":0.7},"encoding":{"x":{"field":"to","type":"nominal","axis":null},"y":{"field":"y","type":"quantitative"},"y2":{"field":"yt"}}},
{"transform":[{"filter":"datum.k=='br'"}],"mark":{"type":"text","fontSize":9.5,"baseline":"bottom","dy":-1,"color":"#1a1a1a"},"encoding":{"x":{"field":"from","type":"nominal","bandPosition":1.1667,"axis":null},"y":{"field":"y","type":"quantitative"},"text":{"field":"lab"}}},
{"transform":[{"filter":"datum.k=='np'"}],"mark":{"type":"text","fontSize":10,"color":"#E41A1C"},"encoding":{"x":{"datum":"After MF","type":"nominal","bandPosition":1.1667,"axis":null},"y":{"field":"y","type":"quantitative"},"text":{"field":"lab"}}}
]},
{"width":118,"height":227,"data":{"name":"d"},"transform":[{"filter":"datum.p=='GH76'"}],"layer":[
{"transform":[{"filter":"datum.k=='box'"}],"mark":{"type":"rule","color":"#333","strokeWidth":0.7},"encoding":{"x":{"field":"t","type":"nominal","scale":{"domain":["Before MF","After MF","Before CTL","After CTL"],"paddingInner":0.25,"paddingOuter":0.225},"axis":{"orient":"bottom","title":"Time","titleX":140,"titleY":62,"titleBaseline":"alphabetic","labelAngle":-90,"labelFontSize":9}},"y":{"field":"lo","type":"quantitative","scale":{"domain":[-4.2e-6,1.159e-4],"nice":false,"zero":false},"axis":{"title":null,"values":[0,3e-5,6e-5,9e-5],"labelExpr":"datum.value == 0 ? '0e+00' : replace(format(datum.value, '.0e'), 'e-', 'e-0')"}},"y2":{"field":"hi"}}},
{"transform":[{"filter":"datum.k=='box'"}],"mark":{"type":"bar","stroke":"#333","strokeWidth":0.8},"encoding":{"x":{"field":"t","type":"nominal","axis":null},"y":{"field":"q1","type":"quantitative"},"y2":{"field":"q3"},"fill":{"field":"b","type":"nominal","scale":{"domain":["MF","CTL"],"range":["#1B9E77","#D95F02"]},"legend":null}}},
{"transform":[{"filter":"datum.k=='box' && datum.ba=='after'"}],"mark":{"type":"bar","stroke":"#333","strokeWidth":0.8,"fill":{"gradient":"linear","x1":0,"y1":0,"x2":1,"y2":1,"stops":[{"offset":0,"color":"rgba(0,0,0,0)"},{"offset":0.082,"color":"rgba(0,0,0,0)"},{"offset":0.082,"color":"#1a1a1a"},{"offset":0.118,"color":"#1a1a1a"},{"offset":0.118,"color":"rgba(0,0,0,0)"},{"offset":0.282,"color":"rgba(0,0,0,0)"},{"offset":0.282,"color":"#1a1a1a"},{"offset":0.318,"color":"#1a1a1a"},{"offset":0.318,"color":"rgba(0,0,0,0)"},{"offset":0.482,"color":"rgba(0,0,0,0)"},{"offset":0.482,"color":"#1a1a1a"},{"offset":0.518,"color":"#1a1a1a"},{"offset":0.518,"color":"rgba(0,0,0,0)"},{"offset":0.682,"color":"rgba(0,0,0,0)"},{"offset":0.682,"color":"#1a1a1a"},{"offset":0.718,"color":"#1a1a1a"},{"offset":0.718,"color":"rgba(0,0,0,0)"},{"offset":0.882,"color":"rgba(0,0,0,0)"},{"offset":0.882,"color":"#1a1a1a"},{"offset":0.918,"color":"#1a1a1a"},{"offset":0.918,"color":"rgba(0,0,0,0)"},{"offset":1,"color":"rgba(0,0,0,0)"}]}},"encoding":{"x":{"field":"t","type":"nominal","axis":null},"y":{"field":"q1","type":"quantitative"},"y2":{"field":"q3"}}},
{"transform":[{"filter":"datum.k=='box'"}],"mark":{"type":"bar","fill":"transparent","stroke":"#222","strokeWidth":1.6},"encoding":{"x":{"field":"t","type":"nominal","axis":{"orient":"top","offset":7,"domain":true,"domainColor":"#d6d6d6","domainWidth":14,"ticks":false,"labels":false,"title":"GH76","titleFontSize":9.3,"titleColor":"#1a1a1a","titleY":0,"titleBaseline":"middle"}},"y":{"field":"md","type":"quantitative"},"y2":{"field":"md"}}},
{"transform":[{"filter":"datum.k=='out'"}],"mark":{"type":"circle","size":16,"color":"#222","opacity":1},"encoding":{"x":{"field":"t","type":"nominal","axis":null},"y":{"field":"v","type":"quantitative"}}},
{"transform":[{"filter":"datum.k=='br'"}],"mark":{"type":"rule","color":"#333","strokeWidth":0.7},"encoding":{"x":{"field":"from","type":"nominal","axis":null},"x2":{"field":"to"},"y":{"field":"y","type":"quantitative"}}},
{"transform":[{"filter":"datum.k=='br'"}],"mark":{"type":"rule","color":"#333","strokeWidth":0.7},"encoding":{"x":{"field":"from","type":"nominal","axis":null},"y":{"field":"y","type":"quantitative"},"y2":{"field":"yt"}}},
{"transform":[{"filter":"datum.k=='br'"}],"mark":{"type":"rule","color":"#333","strokeWidth":0.7},"encoding":{"x":{"field":"to","type":"nominal","axis":null},"y":{"field":"y","type":"quantitative"},"y2":{"field":"yt"}}},
{"transform":[{"filter":"datum.k=='br'"}],"mark":{"type":"text","fontSize":9.5,"baseline":"bottom","dy":-1,"color":"#1a1a1a"},"encoding":{"x":{"field":"from","type":"nominal","bandPosition":1.1667,"axis":null},"y":{"field":"y","type":"quantitative"},"text":{"field":"lab"}}},
{"transform":[{"filter":"datum.k=='np'"}],"mark":{"type":"text","fontSize":10,"color":"#E41A1C"},"encoding":{"x":{"datum":"After MF","type":"nominal","bandPosition":1.1667,"axis":null},"y":{"field":"y","type":"quantitative"},"text":{"field":"lab"}}}
]},
{"width":118,"height":227,"data":{"name":"d"},"transform":[{"filter":"datum.p=='PL26'"}],"layer":[
{"transform":[{"filter":"datum.k=='box'"}],"mark":{"type":"rule","color":"#333","strokeWidth":0.7},"encoding":{"x":{"field":"t","type":"nominal","scale":{"domain":["Before MF","After MF","Before CTL","After CTL"],"paddingInner":0.25,"paddingOuter":0.225},"axis":{"orient":"bottom","title":null,"labelAngle":-90,"labelFontSize":9}},"y":{"field":"lo","type":"quantitative","scale":{"domain":[-2.5e-6,9.16e-5],"nice":false,"zero":false},"axis":{"title":null,"values":[0,2.5e-5,5e-5,7.5e-5],"labelExpr":"datum.value == 0 ? '0.0e+00' : replace(format(datum.value, '.1e'), 'e-', 'e-0')"}},"y2":{"field":"hi"}}},
{"transform":[{"filter":"datum.k=='box'"}],"mark":{"type":"bar","stroke":"#333","strokeWidth":0.8},"encoding":{"x":{"field":"t","type":"nominal","axis":null},"y":{"field":"q1","type":"quantitative"},"y2":{"field":"q3"},"fill":{"field":"b","type":"nominal","scale":{"domain":["MF","CTL"],"range":["#1B9E77","#D95F02"]},"legend":null}}},
{"transform":[{"filter":"datum.k=='box' && datum.ba=='after'"}],"mark":{"type":"bar","stroke":"#333","strokeWidth":0.8,"fill":{"gradient":"linear","x1":0,"y1":0,"x2":1,"y2":1,"stops":[{"offset":0,"color":"rgba(0,0,0,0)"},{"offset":0.082,"color":"rgba(0,0,0,0)"},{"offset":0.082,"color":"#1a1a1a"},{"offset":0.118,"color":"#1a1a1a"},{"offset":0.118,"color":"rgba(0,0,0,0)"},{"offset":0.282,"color":"rgba(0,0,0,0)"},{"offset":0.282,"color":"#1a1a1a"},{"offset":0.318,"color":"#1a1a1a"},{"offset":0.318,"color":"rgba(0,0,0,0)"},{"offset":0.482,"color":"rgba(0,0,0,0)"},{"offset":0.482,"color":"#1a1a1a"},{"offset":0.518,"color":"#1a1a1a"},{"offset":0.518,"color":"rgba(0,0,0,0)"},{"offset":0.682,"color":"rgba(0,0,0,0)"},{"offset":0.682,"color":"#1a1a1a"},{"offset":0.718,"color":"#1a1a1a"},{"offset":0.718,"color":"rgba(0,0,0,0)"},{"offset":0.882,"color":"rgba(0,0,0,0)"},{"offset":0.882,"color":"#1a1a1a"},{"offset":0.918,"color":"#1a1a1a"},{"offset":0.918,"color":"rgba(0,0,0,0)"},{"offset":1,"color":"rgba(0,0,0,0)"}]}},"encoding":{"x":{"field":"t","type":"nominal","axis":null},"y":{"field":"q1","type":"quantitative"},"y2":{"field":"q3"}}},
{"transform":[{"filter":"datum.k=='box'"}],"mark":{"type":"bar","fill":"transparent","stroke":"#222","strokeWidth":1.6},"encoding":{"x":{"field":"t","type":"nominal","axis":{"orient":"top","offset":7,"domain":true,"domainColor":"#d6d6d6","domainWidth":14,"ticks":false,"labels":false,"title":"PL26","titleFontSize":9.3,"titleColor":"#1a1a1a","titleY":0,"titleBaseline":"middle"}},"y":{"field":"md","type":"quantitative"},"y2":{"field":"md"}}},
{"transform":[{"filter":"datum.k=='out'"}],"mark":{"type":"circle","size":16,"color":"#222","opacity":1},"encoding":{"x":{"field":"t","type":"nominal","axis":null},"y":{"field":"v","type":"quantitative"}}},
{"transform":[{"filter":"datum.k=='br'"}],"mark":{"type":"rule","color":"#333","strokeWidth":0.7},"encoding":{"x":{"field":"from","type":"nominal","axis":null},"x2":{"field":"to"},"y":{"field":"y","type":"quantitative"}}},
{"transform":[{"filter":"datum.k=='br'"}],"mark":{"type":"rule","color":"#333","strokeWidth":0.7},"encoding":{"x":{"field":"from","type":"nominal","axis":null},"y":{"field":"y","type":"quantitative"},"y2":{"field":"yt"}}},
{"transform":[{"filter":"datum.k=='br'"}],"mark":{"type":"rule","color":"#333","strokeWidth":0.7},"encoding":{"x":{"field":"to","type":"nominal","axis":null},"y":{"field":"y","type":"quantitative"},"y2":{"field":"yt"}}},
{"transform":[{"filter":"datum.k=='br'"}],"mark":{"type":"text","fontSize":9.5,"baseline":"bottom","dy":-1,"color":"#1a1a1a"},"encoding":{"x":{"field":"from","type":"nominal","bandPosition":1.1667,"axis":null},"y":{"field":"y","type":"quantitative"},"text":{"field":"lab"}}},
{"transform":[{"filter":"datum.k=='np'"}],"mark":{"type":"text","fontSize":10,"color":"#E41A1C"},"encoding":{"x":{"datum":"After MF","type":"nominal","bandPosition":1.1667,"axis":null},"y":{"field":"y","type":"quantitative"},"text":{"field":"lab"}}}
]},
{"width":118,"height":227,"data":{"name":"d"},"transform":[{"filter":"datum.p=='GH13_29'"}],"layer":[
{"transform":[{"filter":"datum.k=='box'"}],"mark":{"type":"rule","color":"#333","strokeWidth":0.7},"encoding":{"x":{"field":"t","type":"nominal","scale":{"domain":["Before MF","After MF","Before CTL","After CTL"],"paddingInner":0.25,"paddingOuter":0.225},"axis":{"orient":"bottom","title":null,"labelAngle":-90,"labelFontSize":9}},"y":{"field":"lo","type":"quantitative","scale":{"domain":[-1.7e-6,5.41e-5],"nice":false,"zero":false},"axis":{"title":null,"values":[0,1e-5,2e-5,3e-5,4e-5,5e-5],"labelExpr":"datum.value == 0 ? '0e+00' : replace(format(datum.value, '.0e'), 'e-', 'e-0')"}},"y2":{"field":"hi"}}},
{"transform":[{"filter":"datum.k=='box'"}],"mark":{"type":"bar","stroke":"#333","strokeWidth":0.8},"encoding":{"x":{"field":"t","type":"nominal","axis":null},"y":{"field":"q1","type":"quantitative"},"y2":{"field":"q3"},"fill":{"field":"b","type":"nominal","scale":{"domain":["MF","CTL"],"range":["#1B9E77","#D95F02"]},"legend":null}}},
{"transform":[{"filter":"datum.k=='box' && datum.ba=='after'"}],"mark":{"type":"bar","stroke":"#333","strokeWidth":0.8,"fill":{"gradient":"linear","x1":0,"y1":0,"x2":1,"y2":1,"stops":[{"offset":0,"color":"rgba(0,0,0,0)"},{"offset":0.082,"color":"rgba(0,0,0,0)"},{"offset":0.082,"color":"#1a1a1a"},{"offset":0.118,"color":"#1a1a1a"},{"offset":0.118,"color":"rgba(0,0,0,0)"},{"offset":0.282,"color":"rgba(0,0,0,0)"},{"offset":0.282,"color":"#1a1a1a"},{"offset":0.318,"color":"#1a1a1a"},{"offset":0.318,"color":"rgba(0,0,0,0)"},{"offset":0.482,"color":"rgba(0,0,0,0)"},{"offset":0.482,"color":"#1a1a1a"},{"offset":0.518,"color":"#1a1a1a"},{"offset":0.518,"color":"rgba(0,0,0,0)"},{"offset":0.682,"color":"rgba(0,0,0,0)"},{"offset":0.682,"color":"#1a1a1a"},{"offset":0.718,"color":"#1a1a1a"},{"offset":0.718,"color":"rgba(0,0,0,0)"},{"offset":0.882,"color":"rgba(0,0,0,0)"},{"offset":0.882,"color":"#1a1a1a"},{"offset":0.918,"color":"#1a1a1a"},{"offset":0.918,"color":"rgba(0,0,0,0)"},{"offset":1,"color":"rgba(0,0,0,0)"}]}},"encoding":{"x":{"field":"t","type":"nominal","axis":null},"y":{"field":"q1","type":"quantitative"},"y2":{"field":"q3"}}},
{"transform":[{"filter":"datum.k=='box'"}],"mark":{"type":"bar","fill":"transparent","stroke":"#222","strokeWidth":1.6},"encoding":{"x":{"field":"t","type":"nominal","axis":{"orient":"top","offset":7,"domain":true,"domainColor":"#d6d6d6","domainWidth":14,"ticks":false,"labels":false,"title":"GH13_29","titleFontSize":9.3,"titleColor":"#1a1a1a","titleY":0,"titleBaseline":"middle"}},"y":{"field":"md","type":"quantitative"},"y2":{"field":"md"}}},
{"transform":[{"filter":"datum.k=='out'"}],"mark":{"type":"circle","size":16,"color":"#222","opacity":1},"encoding":{"x":{"field":"t","type":"nominal","axis":null},"y":{"field":"v","type":"quantitative"}}},
{"transform":[{"filter":"datum.k=='br'"}],"mark":{"type":"rule","color":"#333","strokeWidth":0.7},"encoding":{"x":{"field":"from","type":"nominal","axis":null},"x2":{"field":"to"},"y":{"field":"y","type":"quantitative"}}},
{"transform":[{"filter":"datum.k=='br'"}],"mark":{"type":"rule","color":"#333","strokeWidth":0.7},"encoding":{"x":{"field":"from","type":"nominal","axis":null},"y":{"field":"y","type":"quantitative"},"y2":{"field":"yt"}}},
{"transform":[{"filter":"datum.k=='br'"}],"mark":{"type":"rule","color":"#333","strokeWidth":0.7},"encoding":{"x":{"field":"to","type":"nominal","axis":null},"y":{"field":"y","type":"quantitative"},"y2":{"field":"yt"}}},
{"transform":[{"filter":"datum.k=='br'"}],"mark":{"type":"text","fontSize":9.5,"baseline":"bottom","dy":-1,"color":"#1a1a1a"},"encoding":{"x":{"field":"from","type":"nominal","bandPosition":1.1667,"axis":null},"y":{"field":"y","type":"quantitative"},"text":{"field":"lab"}}},
{"transform":[{"filter":"datum.k=='np'"}],"mark":{"type":"text","fontSize":10,"color":"#E41A1C"},"encoding":{"x":{"datum":"After MF","type":"nominal","bandPosition":1.1667,"axis":null},"y":{"field":"y","type":"quantitative"},"text":{"field":"lab"}}}
]}
]},
{"bounds":"flush","spacing":45,"hconcat":[
{"width":304,"height":240,"data":{"name":"d"},"transform":[{"filter":"datum.p=='MF0023'"}],"layer":[
{"transform":[{"filter":"datum.k=='box'"}],"mark":{"type":"rule","color":"#333","strokeWidth":0.7},"encoding":{"x":{"field":"t","type":"nominal","scale":{"domain":["Before MF","After MF","Before CTL","After CTL"],"paddingInner":0.25,"paddingOuter":0.225},"axis":{"orient":"bottom","title":"Time","titleX":326,"titleY":59,"titleBaseline":"alphabetic","labelAngle":-90,"labelFontSize":9.2}},"y":{"field":"lo","type":"quantitative","scale":{"domain":[-2.07e-6,1.2207e-4],"nice":false,"zero":false},"axis":{"title":"Relative abundance","titleX":-51,"titleY":120,"titleBaseline":"alphabetic","values":[0,3e-5,6e-5,9e-5,1.2e-4],"labelExpr":"format(datum.value, '.5f')"}},"y2":{"field":"hi"}}},
{"transform":[{"filter":"datum.k=='box'"}],"mark":{"type":"bar","stroke":"#333","strokeWidth":0.8},"encoding":{"x":{"field":"t","type":"nominal","axis":null},"y":{"field":"q1","type":"quantitative"},"y2":{"field":"q3"},"fill":{"field":"b","type":"nominal","scale":{"domain":["MF","CTL"],"range":["#1B9E77","#D95F02"]},"legend":{"title":"Bread","orient":"none","legendX":667,"legendY":124,"symbolType":"M-0.8,-0.55H0.8V0.55H-0.8Z M-0.8,0H0.8 M0,-0.55V-0.95 M0,0.55V0.95","symbolSize":144,"symbolStrokeColor":"#333","symbolStrokeWidth":0.8,"rowPadding":3,"titlePadding":5,"labelOffset":6}}}},
{"transform":[{"filter":"datum.k=='box' && datum.ba=='after'"}],"mark":{"type":"bar","stroke":"#333","strokeWidth":0.8,"fill":{"gradient":"linear","x1":0,"y1":0,"x2":1,"y2":1,"stops":[{"offset":0,"color":"rgba(0,0,0,0)"},{"offset":0.058,"color":"rgba(0,0,0,0)"},{"offset":0.058,"color":"#1a1a1a"},{"offset":0.084,"color":"#1a1a1a"},{"offset":0.084,"color":"rgba(0,0,0,0)"},{"offset":0.201,"color":"rgba(0,0,0,0)"},{"offset":0.201,"color":"#1a1a1a"},{"offset":0.227,"color":"#1a1a1a"},{"offset":0.227,"color":"rgba(0,0,0,0)"},{"offset":0.344,"color":"rgba(0,0,0,0)"},{"offset":0.344,"color":"#1a1a1a"},{"offset":0.370,"color":"#1a1a1a"},{"offset":0.370,"color":"rgba(0,0,0,0)"},{"offset":0.487,"color":"rgba(0,0,0,0)"},{"offset":0.487,"color":"#1a1a1a"},{"offset":0.513,"color":"#1a1a1a"},{"offset":0.513,"color":"rgba(0,0,0,0)"},{"offset":0.630,"color":"rgba(0,0,0,0)"},{"offset":0.630,"color":"#1a1a1a"},{"offset":0.656,"color":"#1a1a1a"},{"offset":0.656,"color":"rgba(0,0,0,0)"},{"offset":0.773,"color":"rgba(0,0,0,0)"},{"offset":0.773,"color":"#1a1a1a"},{"offset":0.799,"color":"#1a1a1a"},{"offset":0.799,"color":"rgba(0,0,0,0)"},{"offset":0.916,"color":"rgba(0,0,0,0)"},{"offset":0.916,"color":"#1a1a1a"},{"offset":0.942,"color":"#1a1a1a"},{"offset":0.942,"color":"rgba(0,0,0,0)"},{"offset":1,"color":"rgba(0,0,0,0)"}]}},"encoding":{"x":{"field":"t","type":"nominal","axis":null},"y":{"field":"q1","type":"quantitative"},"y2":{"field":"q3"}}},
{"transform":[{"filter":"datum.k=='box'"}],"mark":{"type":"bar","fill":"transparent","stroke":"#222","strokeWidth":1.6},"encoding":{"x":{"field":"t","type":"nominal","axis":{"orient":"top","offset":8,"domain":true,"domainColor":"#d6d6d6","domainWidth":16,"ticks":false,"labels":false,"title":"MF0023 methionine degradation (cysteine pathway)","titleFontSize":9.3,"titleColor":"#1a1a1a","titleY":0,"titleBaseline":"middle"}},"y":{"field":"md","type":"quantitative"},"y2":{"field":"md"}}},
{"transform":[{"filter":"datum.k=='out'"}],"mark":{"type":"circle","size":16,"color":"#222","opacity":1},"encoding":{"x":{"field":"t","type":"nominal","axis":null},"y":{"field":"v","type":"quantitative"}}},
{"transform":[{"filter":"datum.k=='br'"}],"mark":{"type":"rule","color":"#333","strokeWidth":0.7},"encoding":{"x":{"field":"from","type":"nominal","axis":null},"x2":{"field":"to"},"y":{"field":"y","type":"quantitative"}}},
{"transform":[{"filter":"datum.k=='br'"}],"mark":{"type":"rule","color":"#333","strokeWidth":0.7},"encoding":{"x":{"field":"from","type":"nominal","axis":null},"y":{"field":"y","type":"quantitative"},"y2":{"field":"yt"}}},
{"transform":[{"filter":"datum.k=='br'"}],"mark":{"type":"rule","color":"#333","strokeWidth":0.7},"encoding":{"x":{"field":"to","type":"nominal","axis":null},"y":{"field":"y","type":"quantitative"},"y2":{"field":"yt"}}},
{"transform":[{"filter":"datum.k=='br'"}],"mark":{"type":"text","fontSize":9.5,"baseline":"bottom","dy":-1,"color":"#1a1a1a"},"encoding":{"x":{"field":"from","type":"nominal","bandPosition":1.1667,"axis":null},"y":{"field":"y","type":"quantitative"},"text":{"field":"lab"}}},
{"transform":[{"filter":"datum.k=='np'"}],"mark":{"type":"text","fontSize":10,"color":"#E41A1C"},"encoding":{"x":{"datum":"After MF","type":"nominal","bandPosition":1.1667,"axis":null},"y":{"field":"y","type":"quantitative"},"text":{"field":"lab"}}},
{"transform":[{"filter":"false"}],"mark":{"type":"point","filled":false,"color":"#333","strokeWidth":0.8,"opacity":1},"encoding":{"x":{"field":"t","type":"nominal","axis":null},"y":{"field":"md","type":"quantitative"},"shape":{"field":"ba","type":"nominal","scale":{"domain":["before","after"],"range":["M-0.8,-0.55H0.8V0.55H-0.8Z M-0.8,0H0.8 M0,-0.55V-0.95 M0,0.55V0.95","M-0.8,-0.55H0.8V0.55H-0.8Z M-0.8,0H0.8 M0,-0.55V-0.95 M0,0.55V0.95 M-0.8,0.25L-0.25,-0.55 M-0.3,0.55L0.45,-0.55 M0.25,0.55L0.8,-0.25"]},"legend":{"title":"Before/After","orient":"none","legendX":667,"legendY":63,"symbolSize":144,"symbolStrokeColor":"#333","symbolStrokeWidth":0.8,"rowPadding":3,"titlePadding":5,"labelOffset":6}}}}
]},
{"width":303,"height":240,"data":{"name":"d"},"transform":[{"filter":"datum.p=='MF0024'"}],"layer":[
{"transform":[{"filter":"datum.k=='box'"}],"mark":{"type":"rule","color":"#333","strokeWidth":0.7},"encoding":{"x":{"field":"t","type":"nominal","scale":{"domain":["Before MF","After MF","Before CTL","After CTL"],"paddingInner":0.25,"paddingOuter":0.225},"axis":{"orient":"bottom","title":null,"labelAngle":-90,"labelFontSize":9.2}},"y":{"field":"lo","type":"quantitative","scale":{"domain":[-3.16e-6,7.83e-5],"nice":false,"zero":false},"axis":{"title":null,"values":[0,2e-5,4e-5,6e-5],"labelExpr":"datum.value == 0 ? '0e+00' : replace(format(datum.value, '.0e'), 'e-', 'e-0')"}},"y2":{"field":"hi"}}},
{"transform":[{"filter":"datum.k=='box'"}],"mark":{"type":"bar","stroke":"#333","strokeWidth":0.8},"encoding":{"x":{"field":"t","type":"nominal","axis":null},"y":{"field":"q1","type":"quantitative"},"y2":{"field":"q3"},"fill":{"field":"b","type":"nominal","scale":{"domain":["MF","CTL"],"range":["#1B9E77","#D95F02"]},"legend":null}}},
{"transform":[{"filter":"datum.k=='box' && datum.ba=='after'"}],"mark":{"type":"bar","stroke":"#333","strokeWidth":0.8,"fill":{"gradient":"linear","x1":0,"y1":0,"x2":1,"y2":1,"stops":[{"offset":0,"color":"rgba(0,0,0,0)"},{"offset":0.058,"color":"rgba(0,0,0,0)"},{"offset":0.058,"color":"#1a1a1a"},{"offset":0.084,"color":"#1a1a1a"},{"offset":0.084,"color":"rgba(0,0,0,0)"},{"offset":0.201,"color":"rgba(0,0,0,0)"},{"offset":0.201,"color":"#1a1a1a"},{"offset":0.227,"color":"#1a1a1a"},{"offset":0.227,"color":"rgba(0,0,0,0)"},{"offset":0.344,"color":"rgba(0,0,0,0)"},{"offset":0.344,"color":"#1a1a1a"},{"offset":0.370,"color":"#1a1a1a"},{"offset":0.370,"color":"rgba(0,0,0,0)"},{"offset":0.487,"color":"rgba(0,0,0,0)"},{"offset":0.487,"color":"#1a1a1a"},{"offset":0.513,"color":"#1a1a1a"},{"offset":0.513,"color":"rgba(0,0,0,0)"},{"offset":0.630,"color":"rgba(0,0,0,0)"},{"offset":0.630,"color":"#1a1a1a"},{"offset":0.656,"color":"#1a1a1a"},{"offset":0.656,"color":"rgba(0,0,0,0)"},{"offset":0.773,"color":"rgba(0,0,0,0)"},{"offset":0.773,"color":"#1a1a1a"},{"offset":0.799,"color":"#1a1a1a"},{"offset":0.799,"color":"rgba(0,0,0,0)"},{"offset":0.916,"color":"rgba(0,0,0,0)"},{"offset":0.916,"color":"#1a1a1a"},{"offset":0.942,"color":"#1a1a1a"},{"offset":0.942,"color":"rgba(0,0,0,0)"},{"offset":1,"color":"rgba(0,0,0,0)"}]}},"encoding":{"x":{"field":"t","type":"nominal","axis":null},"y":{"field":"q1","type":"quantitative"},"y2":{"field":"q3"}}},
{"transform":[{"filter":"datum.k=='box'"}],"mark":{"type":"bar","fill":"transparent","stroke":"#222","strokeWidth":1.6},"encoding":{"x":{"field":"t","type":"nominal","axis":{"orient":"top","offset":8,"domain":true,"domainColor":"#d6d6d6","domainWidth":16,"ticks":false,"labels":false,"title":"MF0024 methionine degradation (mercaptan pathway)","titleFontSize":9.3,"titleColor":"#1a1a1a","titleY":0,"titleBaseline":"middle"}},"y":{"field":"md","type":"quantitative"},"y2":{"field":"md"}}},
{"transform":[{"filter":"datum.k=='out'"}],"mark":{"type":"circle","size":16,"color":"#222","opacity":1},"encoding":{"x":{"field":"t","type":"nominal","axis":null},"y":{"field":"v","type":"quantitative"}}},
{"transform":[{"filter":"datum.k=='br'"}],"mark":{"type":"rule","color":"#333","strokeWidth":0.7},"encoding":{"x":{"field":"from","type":"nominal","axis":null},"x2":{"field":"to"},"y":{"field":"y","type":"quantitative"}}},
{"transform":[{"filter":"datum.k=='br'"}],"mark":{"type":"rule","color":"#333","strokeWidth":0.7},"encoding":{"x":{"field":"from","type":"nominal","axis":null},"y":{"field":"y","type":"quantitative"},"y2":{"field":"yt"}}},
{"transform":[{"filter":"datum.k=='br'"}],"mark":{"type":"rule","color":"#333","strokeWidth":0.7},"encoding":{"x":{"field":"to","type":"nominal","axis":null},"y":{"field":"y","type":"quantitative"},"y2":{"field":"yt"}}},
{"transform":[{"filter":"datum.k=='br'"}],"mark":{"type":"text","fontSize":9.5,"baseline":"bottom","dy":-1,"color":"#1a1a1a"},"encoding":{"x":{"field":"from","type":"nominal","bandPosition":1.1667,"axis":null},"y":{"field":"y","type":"quantitative"},"text":{"field":"lab"}}},
{"transform":[{"filter":"datum.k=='np'"}],"mark":{"type":"text","fontSize":10,"color":"#E41A1C"},"encoding":{"x":{"datum":"After MF","type":"nominal","bandPosition":1.1667,"axis":null},"y":{"field":"y","type":"quantitative"},"text":{"field":"lab"}}}
]}
]}
]
}
